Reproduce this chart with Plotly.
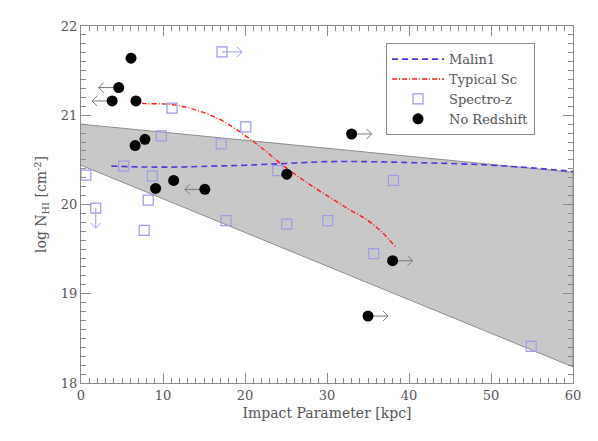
import numpy as np
import plotly.graph_objects as go

# --- data ---
band_x = [0, 60]
band_hi = [20.90, 20.36]
band_lo = [20.44, 18.18]

malin_x = [3.7, 8, 12, 16, 20, 25, 30, 35, 40, 45, 50, 55, 60]
malin_y = [20.43, 20.42, 20.42, 20.43, 20.44, 20.46, 20.48, 20.48, 20.47, 20.46, 20.44, 20.41, 20.37]

sc_x = [6.2, 8, 11, 14, 17, 20.2, 22.5, 24.6, 27, 30, 32.8, 35, 36.8, 38.4]
sc_y = [21.14, 21.13, 21.12, 21.06, 20.95, 20.76, 20.60, 20.44, 20.28, 20.10, 19.94, 19.82, 19.68, 19.52]

spec_x = [0.6, 1.8, 5.2, 7.7, 8.2, 8.7, 9.8, 11.1, 17.1, 20.1, 17.2, 17.7,
          24.0, 25.1, 30.1, 38.1, 35.7, 54.9]
spec_y = [20.33, 19.96, 20.43, 19.71, 20.05, 20.32, 20.77, 21.08, 20.68, 20.87, 21.71, 19.82,
          20.38, 19.78, 19.82, 20.27, 19.45, 18.41]
spec_arrow = ["", "down", "", "", "", "", "", "", "", "", "right", "",
              "", "", "", "", "", ""]

nored_x = [6.1, 4.6, 3.8, 6.7, 7.8, 6.6, 11.3, 9.1, 15.1, 33.0, 25.1, 38.0, 35.0]
nored_y = [21.64, 21.31, 21.16, 21.16, 20.73, 20.66, 20.27, 20.18, 20.17, 20.79, 20.34, 19.37, 18.75]
nored_arrow = ["", "left", "left", "", "", "", "", "", "left", "right", "", "right", "right"]

# pixel scale of the plot area (492 px / 60 kpc, 357 px / 4 dex)
PX_X = 492 / 60.0
PX_Y = 357 / 4.0
ARROW_PX = 20
HEAD_PX = 5

TXT = "#555555"
AX = "#8a8a8a"
SQ = "#9c9ce8"
FONT = "DejaVu Serif"


def arrow_paths(xs, ys, dirs):
    ax_, ay_ = [], []
    for x, y, d in zip(xs, ys, dirs):
        if not d:
            continue
        ux, uy = {"left": (-1, 0), "right": (1, 0), "down": (0, -1), "up": (0, 1)}[d]
        tx = x + ux * ARROW_PX / PX_X
        ty = y + uy * ARROW_PX / PX_Y
        # shaft
        ax_ += [x, tx, None]
        ay_ += [y, ty, None]
        # open chevron head
        bx, by = -ux * HEAD_PX, -uy * HEAD_PX
        px_, py_ = -uy * HEAD_PX, ux * HEAD_PX
        for s in (1, -1):
            ax_ += [tx + (bx + s * px_) / PX_X, tx, None]
            ay_ += [ty + (by + s * py_) / PX_Y, ty, None]
    return ax_, ay_


fig = go.Figure()

# shaded band
fig.add_trace(go.Scatter(
    x=band_x + band_x[::-1], y=band_hi + band_lo[::-1],
    fill="toself", fillcolor="#c8c8c8", mode="lines",
    line=dict(color="#8c8c8c", width=1), showlegend=False, hoverinfo="skip"))

# arrows
sx, sy = arrow_paths(spec_x, spec_y, spec_arrow)
fig.add_trace(go.Scatter(x=sx, y=sy, mode="lines", line=dict(color=SQ, width=1),
                         showlegend=False, hoverinfo="skip"))
nx, ny = arrow_paths(nored_x, nored_y, nored_arrow)
fig.add_trace(go.Scatter(x=nx, y=ny, mode="lines", line=dict(color="#777777", width=1),
                         showlegend=False, hoverinfo="skip"))

fig.add_trace(go.Scatter(x=malin_x, y=malin_y, mode="lines", name="Malin1",
                         line=dict(color="#5533dd", width=1.6, dash="6px,4px"),
                         line_shape="spline"))
fig.add_trace(go.Scatter(x=sc_x, y=sc_y, mode="lines", name="Typical Sc",
                         line=dict(color="#ff1a1a", width=1.4, dash="5px,2px,1px,2px"),
                         line_shape="spline"))
fig.add_trace(go.Scatter(x=spec_x, y=spec_y, mode="markers", name="Spectro-z",
                         marker=dict(symbol="square-open", size=10, color=SQ,
                                     line=dict(width=1.2, color=SQ))))
fig.add_trace(go.Scatter(x=nored_x, y=nored_y, mode="markers", name="No Redshift",
                         marker=dict(symbol="circle", size=11, color="black")))

axis_common = dict(
    showgrid=False, zeroline=False, showline=True, linecolor=AX, linewidth=1,
    mirror="allticks", ticks="inside", ticklen=10, tickcolor=AX, tickwidth=1,
    tickfont=dict(family=FONT, size=13, color=TXT), automargin=False,
)

fig.update_layout(
    width=598, height=441,
    # the page body adds an 8px offset, so margins are shifted to compensate
    margin=dict(l=73, r=33, t=18, b=66),
    paper_bgcolor="white", plot_bgcolor="white",
    font=dict(family=FONT, color=TXT, size=13),
    xaxis=dict(range=[0, 60], dtick=10, tick0=0,
               minor=dict(dtick=1, ticks="inside", ticklen=5, tickcolor=AX),
               title=dict(text="Impact Parameter [kpc]", font=dict(size=14), standoff=6),
               **axis_common),
    yaxis=dict(range=[18, 22], dtick=1, tick0=18,
               minor=dict(dtick=0.1, ticks="inside", ticklen=5, tickcolor=AX),
               title=dict(text="log N<sub>HI</sub> [cm<sup>-2</sup>]", font=dict(size=14), standoff=10),
               **axis_common),
    legend=dict(x=0.62, y=0.952, xanchor="left", yanchor="top",
                bgcolor="white", bordercolor=AX, borderwidth=1,
                font=dict(family=FONT, size=13, color=TXT),
                itemwidth=52, tracegroupgap=0),
)

fig.write_html("out.html")
